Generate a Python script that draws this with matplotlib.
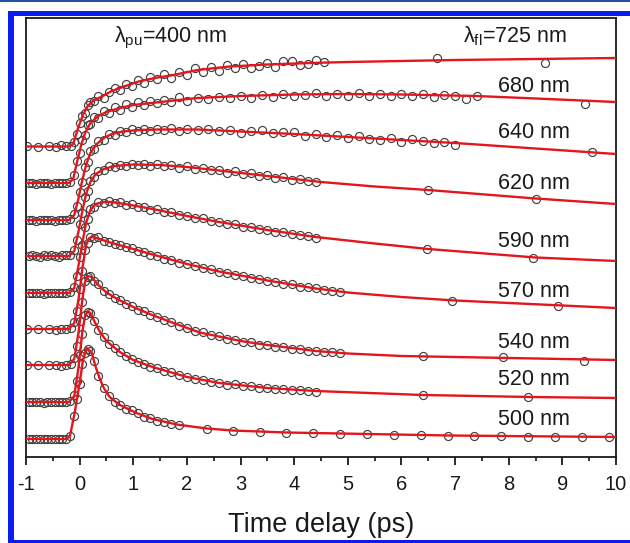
import matplotlib
matplotlib.use('Agg')
import matplotlib.pyplot as plt
from matplotlib.patches import Rectangle
from matplotlib.ticker import MultipleLocator

plt.rcParams['font.family'] = ['Liberation Sans', 'DejaVu Sans']
plt.rcParams['mathtext.fontset'] = 'custom'
plt.rcParams['mathtext.rm'] = 'Liberation Sans'
plt.rcParams['mathtext.it'] = 'Liberation Sans:italic'

# ---------------- data ----------------
wavelength_labels = ['500 nm', '520 nm', '540 nm', '570 nm', '590 nm', '620 nm', '640 nm', '680 nm']
label_y = [3.2, 7.2, 10.9, 16.0, 21.0, 26.8, 31.9, 36.5]
offsets = {'500': 1.8, '520': 5.5, '540': 9.2, '570': 12.8, '590': 16.4,
           '620': 20.1, '640': 23.7, '680': 27.4, '725': 31.05}

T_PRE_DENSE = [-0.95, -0.88, -0.81, -0.74, -0.67, -0.6, -0.53, -0.46, -0.39, -0.32, -0.25, -0.18]
T_PRE_SPARSE = [-0.98, -0.78, -0.58, -0.45, -0.35, -0.25, -0.17]
T_MAIN = [-0.1, -0.05, 0.0, 0.05, 0.1, 0.15, 0.2,
          0.27, 0.35, 0.45, 0.55, 0.65, 0.75,
          0.86, 0.97, 1.08, 1.2, 1.32, 1.45,
          1.58, 1.71, 1.85, 2.0,
          2.15, 2.3, 2.45, 2.6, 2.75, 2.9,
          3.05, 3.2, 3.35, 3.5, 3.65, 3.8, 3.95,
          4.1, 4.25, 4.4]
T_MID = [2.2, 2.4, 2.6, 2.8, 3.0, 3.2, 3.4, 3.6, 3.8, 4.0, 4.2, 4.4, 4.6, 4.8,
         5.0, 5.2, 5.4, 5.6, 5.8, 6.0, 6.2, 6.4, 6.6, 6.8, 7.0, 7.2, 7.4]

# 725 nm
t_725 = T_PRE_SPARSE + T_MAIN + [4.55, 6.66, 8.68]
d_725 = [0.05, -0.05, 0.1, 0.0, 0.15, 0.05, 0.1,
         0.5, 1.3, 2.4, 3.1, 3.4, 4.2, 4.5,
         4.6, 5.1, 4.9, 5.5, 5.9, 5.7,
         6.3, 6.1, 6.7, 6.4, 7.0, 6.8,
         7.3, 6.9, 7.5, 7.2,
         7.9, 7.5, 8.0, 7.6, 8.2, 7.9,
         8.3, 7.9, 8.1, 8.4, 8.0, 8.6, 8.6,
         8.2, 8.3, 8.7,
         8.5, 8.85, 8.35]
ft_725 = [-1.0, -0.2, -0.12, -0.04, 0.06, 0.15, 0.25, 0.43, 0.6, 0.8, 1.1, 1.4, 1.7, 2.2, 2.8, 3.5, 4.3, 5.0, 6.0, 7.0, 8.5, 10.0]
fy_725 = [0.0, 0.0, 0.25, 1.65, 3.15, 4.05, 4.55, 5.05, 5.55, 5.95, 6.5, 6.85, 7.1, 7.65, 8.0, 8.2, 8.35, 8.45, 8.55, 8.65, 8.75, 8.85]

# 680 nm
t_680 = T_PRE_DENSE + T_MAIN[:23] + T_MID + [9.42]
d_680 = [0.0, 0.05, -0.05, 0.0, 0.05, 0.0, -0.05, 0.05, 0.0, 0.0, 0.05, 0.1,
         0.8, 2.2, 3.0, 4.3, 4.8, 5.8, 5.9,
         6.6, 6.5, 7.2, 7.0, 7.6, 7.3,
         7.9, 7.6, 8.1, 7.8, 8.2, 8.0,
         8.3, 8.1, 8.6, 8.2,
         8.5, 8.4, 8.65, 8.5, 8.75, 8.55, 8.8, 8.6, 8.95, 8.7,
         8.85, 9.0, 8.75, 8.9, 8.7, 9.0, 8.75, 8.95, 8.7, 8.95,
         8.75, 8.9, 8.6, 8.8, 8.7, 8.45, 8.75,
         7.95]
ft_680 = [-1.0, -0.2, -0.12, -0.04, 0.03, 0.1, 0.2, 0.35, 0.5, 0.75, 1.0, 1.5, 2.2, 3.0, 4.0, 5.0, 6.0, 7.4, 8.5, 10.0]
fy_680 = [0.0, 0.0, 0.4, 2.3, 3.8, 5.0, 6.0, 6.7, 7.1, 7.5, 7.8, 8.1, 8.5, 8.7, 8.85, 8.9, 8.85, 8.7, 8.45, 8.1]

# 640 nm
t_640 = T_PRE_DENSE + T_MAIN[:23] + T_MID[:25] + [9.55]
d_640 = [0.05, 0.0, -0.05, 0.05, 0.0, 0.0, 0.05, -0.05, 0.0, 0.05, 0.0, 0.1,
         0.6, 1.4, 2.8, 3.8, 5.3, 5.8, 6.9,
         7.1, 7.9, 8.0, 8.6, 8.5, 8.95,
         8.8, 9.1, 8.9, 9.15, 8.95, 9.1,
         9.0, 9.2, 8.95, 9.1,
         9.0, 9.1, 8.9, 9.05, 8.7, 8.95, 9.05, 8.7, 8.8, 8.85,
         8.45, 8.65, 8.35, 8.5, 8.2, 8.45, 8.15, 8.05, 8.25, 7.85,
         8.1, 7.9, 7.75, 7.85, 7.55,
         6.85]
ft_640 = [-1.0, -0.2, -0.1, -0.02, 0.05, 0.12, 0.2, 0.32, 0.45, 0.6, 0.8, 1.1, 1.5, 2.2, 3.0, 4.0, 5.0, 6.0, 7.0, 8.5, 10.0]
fy_640 = [0.0, 0.0, 0.5, 2.2, 4.0, 5.5, 6.7, 7.6, 8.2, 8.6, 8.85, 9.0, 9.05, 9.05, 8.85, 8.6, 8.3, 8.0, 7.7, 7.15, 6.6]

# 620 nm
t_620 = T_PRE_DENSE + T_MAIN + [6.5, 8.5]
d_620 = [0.0, 0.05, 0.0, -0.05, 0.05, 0.0, 0.05, 0.0, -0.05, 0.05, 0.05, 0.1,
         0.6, 1.6, 3.2, 4.3, 5.9, 6.5, 7.5,
         7.9, 8.5, 8.6, 9.0, 8.9, 9.15,
         9.0, 9.25, 9.1, 9.2, 9.0, 9.2,
         9.0, 9.1, 8.85, 9.0,
         8.7, 8.85, 8.6, 8.65, 8.35, 8.5,
         8.2, 8.3, 8.0, 8.1, 7.85, 7.9, 7.6,
         7.75, 7.5, 7.4,
         6.6, 5.7]
ft_620 = [-1.0, -0.2, -0.1, -0.02, 0.05, 0.12, 0.2, 0.3, 0.45, 0.65, 1.0, 1.5, 2.0, 2.6, 3.5, 4.5, 5.5, 6.5, 8.5, 10.0]
fy_620 = [0.0, 0.0, 0.5, 2.5, 4.5, 6.2, 7.4, 8.2, 8.7, 9.0, 9.15, 9.1, 8.9, 8.55, 8.0, 7.4, 6.95, 6.6, 5.75, 5.2]

# 590 nm
t_590 = T_PRE_DENSE + T_MAIN + [6.47, 8.45]
d_590 = [0.05, 0.0, 0.0, 0.05, -0.05, 0.0, 0.05, 0.0, 0.0, 0.05, 0.0, 0.1,
         0.6, 1.7, 3.6, 4.8, 6.6, 7.4, 8.45,
         8.6, 9.1, 9.0, 9.2, 9.0, 9.1,
         8.8, 8.9, 8.6, 8.65, 8.35, 8.4,
         8.1, 8.1, 7.8, 7.75,
         7.5, 7.5, 7.2, 7.15, 6.9, 6.95,
         6.6, 6.6, 6.4, 6.35, 6.1, 6.1, 5.9,
         5.8, 5.75, 5.55,
         4.45, 3.5]
ft_590 = [-1.0, -0.2, -0.1, -0.02, 0.05, 0.12, 0.2, 0.3, 0.45, 0.6, 0.9, 1.36, 2.0, 2.6, 3.5, 4.4, 5.5, 6.5, 8.5, 10.0]
fy_590 = [0.0, 0.0, 0.5, 2.8, 5.0, 7.0, 8.3, 8.9, 9.1, 9.1, 8.85, 8.4, 7.7, 7.1, 6.3, 5.6, 4.95, 4.4, 3.55, 3.2]

# 570 nm
t_570 = T_PRE_SPARSE + T_MAIN + [4.55, 4.7, 4.85, 6.94, 8.92]
d_570 = [0.0, 0.05, 0.0, -0.05, 0.05, 0.0, 0.1,
         0.7, 1.8, 4.0, 5.8, 7.9, 8.6, 9.25,
         9.1, 9.15, 8.8, 8.75, 8.5, 8.45,
         8.15, 8.1, 7.85, 7.75, 7.45, 7.35,
         7.05, 6.95, 6.6, 6.55,
         6.35, 6.1, 6.0, 5.7, 5.65, 5.4,
         5.35, 5.1, 5.05, 4.8, 4.75, 4.55, 4.5,
         4.25, 4.2, 4.1,
         3.95, 3.85, 3.7, 2.85, 2.35]
ft_570 = [-1.0, -0.2, -0.1, -0.02, 0.05, 0.12, 0.18, 0.25, 0.4, 0.6, 0.8, 1.0, 1.36, 2.0, 2.6, 3.5, 4.4, 5.0, 6.0, 7.0, 9.0, 10.0]
fy_570 = [0.0, 0.0, 0.6, 3.0, 6.0, 8.4, 9.1, 9.2, 8.95, 8.6, 8.3, 8.0, 7.45, 6.5, 5.75, 4.85, 4.05, 3.65, 3.2, 2.85, 2.35, 2.1]

# 540 nm
t_540 = T_PRE_SPARSE + T_MAIN + [4.55, 4.7, 4.85, 6.4, 7.9, 9.4]
d_540 = [0.05, 0.0, 0.05, 0.0, -0.05, 0.05, 0.1,
         0.7, 1.9, 4.4, 6.3, 8.45, 8.85, 8.95,
         8.45, 8.1, 7.45, 7.15, 6.7, 6.5,
         6.1, 5.9, 5.55, 5.4, 5.0, 4.85,
         4.5, 4.35, 3.95, 3.75,
         3.4, 3.3, 3.0, 2.9, 2.65, 2.55,
         2.3, 2.3, 2.05, 2.0, 1.85, 1.85, 1.65,
         1.6, 1.45, 1.4,
         1.35, 1.3, 1.2, 0.9, 0.8, 0.4]
ft_540 = [-1.0, -0.2, -0.1, -0.02, 0.05, 0.1, 0.15, 0.22, 0.35, 0.5, 0.7, 1.0, 1.35, 1.8, 2.24, 3.0, 3.5, 4.4, 5.0, 6.0, 8.0, 10.0]
fy_540 = [0.0, 0.0, 0.6, 3.3, 6.5, 8.3, 8.9, 8.8, 8.0, 7.25, 6.6, 5.8, 5.0, 4.1, 3.25, 2.4, 2.0, 1.4, 1.15, 0.9, 0.7, 0.5]

# 520 nm
t_520 = T_PRE_DENSE + T_MAIN + [6.4, 8.36]
d_520 = [0.0, 0.05, 0.0, 0.0, -0.05, 0.05, 0.0, 0.05, 0.0, 0.0, 0.05, 0.1,
         0.7, 2.1, 4.7, 6.8, 8.7, 9.05, 8.95,
         8.15, 7.25, 6.5, 5.8, 5.45, 5.0,
         4.6, 4.35, 4.0, 3.85, 3.5, 3.4,
         3.1, 3.0, 2.7, 2.55,
         2.3, 2.25, 2.0, 1.95, 1.75, 1.8,
         1.6, 1.6, 1.45, 1.45, 1.3, 1.35, 1.2,
         1.2, 1.15, 1.05,
         0.7, 0.5]
ft_520 = [-1.0, -0.2, -0.1, -0.02, 0.05, 0.1, 0.15, 0.2, 0.28, 0.38, 0.5, 0.75, 1.0, 1.36, 2.0, 2.6, 3.5, 4.4, 6.4, 8.4, 10.0]
fy_520 = [0.0, 0.0, 0.6, 3.5, 7.0, 8.6, 9.1, 8.9, 8.0, 7.0, 6.1, 5.0, 4.2, 3.5, 2.5, 1.9, 1.4, 1.1, 0.7, 0.5, 0.4]

# 500 nm
t_500 = T_PRE_DENSE + T_MAIN[:22] + [2.37, 2.85, 3.36, 3.85, 4.35, 4.85, 5.35, 5.86,
                                     6.36, 6.87, 7.35, 7.86, 8.36, 8.86, 9.37, 9.87]
d_500 = [0.0, 0.0, 0.05, 0.0, 0.0, 0.05, 0.0, 0.0, 0.05, 0.0, 0.05, 0.3,
         2.3, 4.0, 5.5, 7.5, 8.6, 9.05, 8.85,
         7.8, 6.3, 5.15, 4.3, 3.75, 3.45,
         3.05, 2.9, 2.6, 2.25, 2.1, 1.85,
         1.75, 1.5, 1.45,
         1.05, 0.85, 0.75, 0.65, 0.6, 0.55, 0.5, 0.45,
         0.4, 0.35, 0.3, 0.3, 0.25, 0.25, 0.2, 0.2]
ft_500 = [-1.0, -0.25, -0.18, -0.09, 0.0, 0.06, 0.13, 0.22, 0.3, 0.37, 0.45, 0.56, 0.75, 1.06, 1.36, 1.81, 2.37, 2.85, 3.86, 4.35, 6.9, 10.0]
fy_500 = [0.0, 0.0, 0.3, 2.7, 5.6, 7.8, 9.1, 8.7, 7.2, 6.1, 5.1, 4.2, 3.4, 2.6, 2.0, 1.45, 1.05, 0.85, 0.65, 0.6, 0.35, 0.2]

x_ticks = [-1, 0, 1, 2, 3, 4, 5, 6, 7, 8, 9, 10]

traces = [
    ('725', t_725, d_725, ft_725, fy_725),
    ('680', t_680, d_680, ft_680, fy_680),
    ('640', t_640, d_640, ft_640, fy_640),
    ('620', t_620, d_620, ft_620, fy_620),
    ('590', t_590, d_590, ft_590, fy_590),
    ('570', t_570, d_570, ft_570, fy_570),
    ('540', t_540, d_540, ft_540, fy_540),
    ('520', t_520, d_520, ft_520, fy_520),
    ('500', t_500, d_500, ft_500, fy_500),
]

# ---------------- figure ----------------
W, H = 630, 543
fig = plt.figure(figsize=(W / 100, H / 100), dpi=100)

# decorative page frame
fig.add_artist(Rectangle((0, 1 - 2 / H), 1, 2 / H, transform=fig.transFigure,
                         facecolor='#1f55a5', edgecolor='none'))
blue = '#0a1cf0'
fig.add_artist(Rectangle((8 / W, 1 - 16 / H), 1 - 8 / W, 5 / H, transform=fig.transFigure,
                         facecolor=blue, edgecolor='none'))
fig.add_artist(Rectangle((8 / W, 0), 5.5 / W, 1 - 11 / H, transform=fig.transFigure,
                         facecolor=blue, edgecolor='none'))
fig.add_artist(Rectangle((8 / W, 0), 1 - 8 / W, 3 / H, transform=fig.transFigure,
                         facecolor=blue, edgecolor='none'))

ax = fig.add_axes([26 / W, 1 - 457 / H, 590 / W, 439 / H])

for key, t, d, ft, fy in traces:
    off = offsets[key]
    ax.plot(t, [v + off for v in d], linestyle='none', marker='o', ms=5.8,
            mfc='none', mec='#404040', mew=0.85, zorder=2)
    ax.plot(ft, [v + off for v in fy], color='#e3161c', lw=1.7, zorder=3)

for lab, y in zip(wavelength_labels, label_y):
    ax.text(7.8, y, lab, fontsize=15.5, ha='left', va='baseline', color='#1a1a1a')

ax.text(0.65, 41.5, r'$\mathregular{λ_{pu}}$=400 nm', fontsize=15.5, ha='left',
        va='baseline', color='#1a1a1a')
ax.text(7.15, 41.5, r'$\mathregular{λ_{fl}}$=725 nm', fontsize=15.5, ha='left',
        va='baseline', color='#1a1a1a')

ax.set_xlim(-1, 10)
ax.set_ylim(0, 43.9)
ax.set_xticks(x_ticks)
ax.set_xticklabels([str(v) for v in x_ticks])
ax.xaxis.set_minor_locator(MultipleLocator(0.5))
ax.set_yticks([])
ax.tick_params(axis='x', which='major', direction='out', length=6, width=1.3,
               labelsize=14.5, pad=7, colors='#1a1a1a')
ax.tick_params(axis='x', which='minor', direction='out', length=3, width=1.1)
for s in ax.spines.values():
    s.set_linewidth(1.3)
    s.set_color('#1a1a1a')
ax.set_xlabel('Time delay (ps)', fontsize=19.5, labelpad=13, color='#1a1a1a')

fig.savefig('out.png', dpi=100)
